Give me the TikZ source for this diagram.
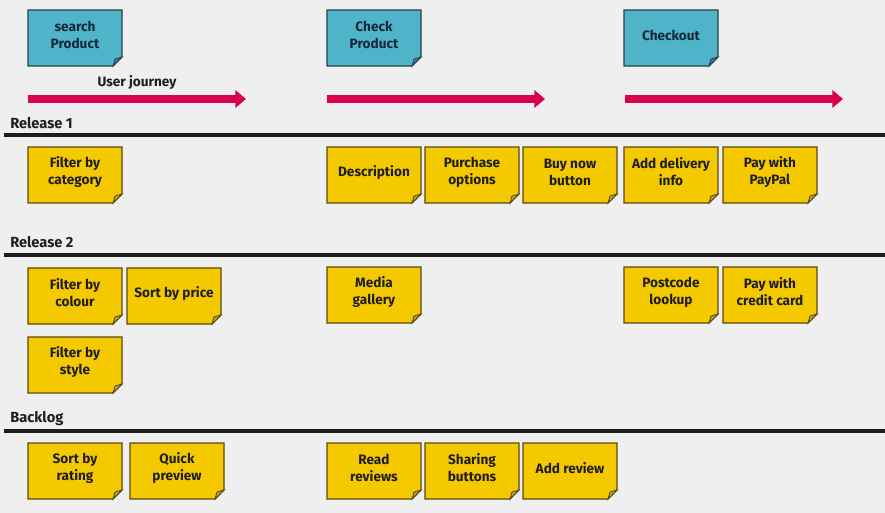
\documentclass[tikz,border=0pt]{standalone}
\usepackage{fontspec}
\setmainfont{Fira Sans}
\usetikzlibrary{arrows.meta}
\definecolor{bgc}{HTML}{EFEFEF}
\definecolor{noteyellow}{HTML}{F5C900}
\definecolor{yellowedge}{HTML}{5A4A14}
\definecolor{yellowfold}{HTML}{B8A040}
\definecolor{noteblue}{HTML}{4FB4C9}
\definecolor{blueedge}{HTML}{24424A}
\definecolor{bluefold}{HTML}{3A8090}
\definecolor{journeyred}{HTML}{D9004F}
\definecolor{inkc}{HTML}{1E1E1E}
\definecolor{bluetext}{HTML}{14283A}
\tikzset{
  yellownote/.style={fill=noteyellow, draw=yellowedge, line width=1pt},
  yellowfoldst/.style={fill=yellowfold, draw=yellowedge, line width=0.6pt},
  bluenote/.style={fill=noteblue, draw=blueedge, line width=1pt},
  bluefoldst/.style={fill=bluefold, draw=blueedge, line width=0.6pt},
  notetext/.style={inner sep=0pt, align=center, font=\bfseries\fontsize{10.2}{12.75}\selectfont, text=inkc},
  bluetextst/.style={notetext, text=bluetext},
  rowlabel/.style={inner sep=0pt, anchor=west, font=\bfseries\fontsize{11}{13}\selectfont, text=inkc},
  divider/.style={draw=inkc, line width=3pt},
  journey/.style={draw=journeyred, line width=5.8pt, -{Triangle[length=8pt,width=13pt]}},
}
% #1 name, #2 note style, #3 fold style, #4 x, #5 y, #6 text style, #7 text
\newcommand\stickynote[7]{%
  \path[#2] (#4,#5) -- (#4+94,#5) -- (#4+94,#5+47) -- (#4+85,#5+56) -- (#4,#5+56) -- cycle;
  \path[#3] (#4+94,#5+47) -- (#4+85,#5+56) -- (#4+87,#5+49) -- cycle;
  \node[#6] (#1) at (#4+47,#5+25) {#7};
}
\begin{document}
\begin{tikzpicture}[x=0.75pt,y=-0.75pt]
\fill[bgc] (0,0) rectangle (885,513);
\useasboundingbox (0,0) rectangle (885,513);

% epics
\stickynote{search}{bluenote}{bluefoldst}{28}{10}{bluetextst}{search\\Product}
\stickynote{check}{bluenote}{bluefoldst}{327}{10}{bluetextst}{Check\\Product}
\stickynote{checkout}{bluenote}{bluefoldst}{624}{10}{bluetextst}{Checkout}

% user journey
\node[notetext] (uj) at (137,82) {User journey};
\coordinate (a1s) at (28,99);  \coordinate (a1e) at (246,99);
\coordinate (a2s) at (327,99); \coordinate (a2e) at (545,99);
\coordinate (a3s) at (625,99); \coordinate (a3e) at (843,99);
\draw[journey] (a1s) -- (a1e);
\draw[journey] (a2s) -- (a2e);
\draw[journey] (a3s) -- (a3e);

% release dividers
\node[rowlabel] (r1) at (10,123) {Release 1};
\coordinate (l1s) at (4,135); \coordinate (l1e) at (885,135);
\draw[divider] (l1s) -- (l1e);
\node[rowlabel] (r2) at (10,242) {Release 2};
\coordinate (l2s) at (4,255); \coordinate (l2e) at (885,255);
\draw[divider] (l2s) -- (l2e);
\node[rowlabel] (bl) at (10,419) {Backlog};
\coordinate (l3s) at (4,431); \coordinate (l3e) at (885,431);
\draw[divider] (l3s) -- (l3e);

% release 1
\stickynote{fcat}{yellownote}{yellowfoldst}{28}{147}{notetext}{Filter by\\category}
\stickynote{desc}{yellownote}{yellowfoldst}{327}{147}{notetext}{Description}
\stickynote{popt}{yellownote}{yellowfoldst}{425}{147}{notetext}{Purchase\\options}
\stickynote{buy}{yellownote}{yellowfoldst}{523}{147}{notetext}{Buy now\\button}
\stickynote{deliv}{yellownote}{yellowfoldst}{624}{147}{notetext}{Add delivery\\info}
\stickynote{paypal}{yellownote}{yellowfoldst}{723}{147}{notetext}{Pay with\\PayPal}

% release 2
\stickynote{fcol}{yellownote}{yellowfoldst}{28}{268}{notetext}{Filter by\\colour}
\stickynote{sprice}{yellownote}{yellowfoldst}{127}{268}{notetext}{Sort by price}
\stickynote{media}{yellownote}{yellowfoldst}{327}{267}{notetext}{Media\\gallery}
\stickynote{postc}{yellownote}{yellowfoldst}{624}{267}{notetext}{Postcode\\lookup}
\stickynote{card}{yellownote}{yellowfoldst}{723}{267}{notetext}{Pay with\\credit card}
\stickynote{fsty}{yellownote}{yellowfoldst}{28}{337}{notetext}{Filter by\\style}

% backlog
\stickynote{srate}{yellownote}{yellowfoldst}{28}{443}{notetext}{Sort by\\rating}
\stickynote{qprev}{yellownote}{yellowfoldst}{130}{443}{notetext}{Quick\\preview}
\stickynote{rrev}{yellownote}{yellowfoldst}{327}{443}{notetext}{Read\\reviews}
\stickynote{share}{yellownote}{yellowfoldst}{425}{443}{notetext}{Sharing\\buttons}
\stickynote{addrev}{yellownote}{yellowfoldst}{523}{443}{notetext}{Add review}
\end{tikzpicture}
\end{document}
